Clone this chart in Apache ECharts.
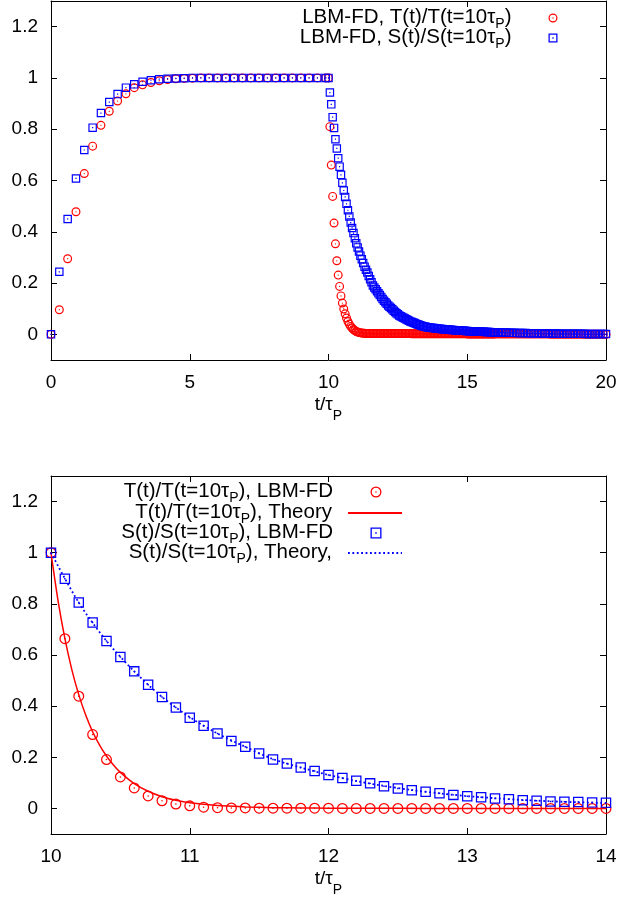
<!DOCTYPE html>
<html><head><meta charset="utf-8">
<script src="https://cdn.jsdelivr.net/npm/echarts@6/dist/echarts.min.js"></script>
<style>html,body{margin:0;padding:0;background:#fff}#c{width:621px;height:898px}</style>
</head><body><div id="c"></div>
<script>
// ---------------- data ----------------
// Top panel, heating phase: sampled every 0.3 tau_P from t = 0 to 9.9
const riseStart = 0, riseStep = 0.3;
const riseT = [0, 0.096, 0.295, 0.478, 0.627, 0.734, 0.815, 0.870, 0.910, 0.938, 0.962, 0.973, 0.982, 0.989, 0.994, 0.997, 0.998, 0.999,
  1, 1, 1, 1, 1, 1, 1, 1, 1, 1, 1, 1, 1, 1, 1, 1];
const riseS = [0, 0.244, 0.450, 0.608, 0.719, 0.806, 0.863, 0.906, 0.937, 0.962, 0.975, 0.985, 0.991, 0.995, 0.997, 0.998, 0.999,
  1, 1, 1, 1, 1, 1, 1, 1, 1, 1, 1, 1, 1, 1, 1, 1, 1];
// Top panel, decay phase: every 0.05 from t = 10.00 to 16.00
const decayStart = 10, decayStep = 0.05;
const decayT = [1,
  0.810, 0.660, 0.538, 0.434, 0.353, 0.287, 0.231, 0.187, 0.150, 0.122,
  0.099, 0.080, 0.064, 0.050, 0.040, 0.031, 0.025, 0.019, 0.015, 0.011,
  0.009, 0.007, 0.006, 0.005, 0.004, 0.004, 0.003, 0.003, 0.003, 0.003,
  0.003, 0.003, 0.003, 0.003, 0.003, 0.003, 0.003, 0.003, 0.003, 0.003,
  0.003, 0.003, 0.003, 0.003, 0.003, 0.003, 0.003, 0.003, 0.003, 0.003,
  0.003, 0.003, 0.003, 0.003, 0.003, 0.003, 0.003, 0.003, 0.003, 0.002,
  0.002, 0.002, 0.002, 0.002, 0.002, 0.002, 0.002, 0.002, 0.002, 0.002,
  0.002, 0.002, 0.002, 0.002, 0.002, 0.002, 0.002, 0.002, 0.002, 0.002,
  0.002, 0.002, 0.002, 0.002, 0.002, 0.002, 0.002, 0.002, 0.002, 0.002,
  0.002, 0.002, 0.002, 0.002, 0.002, 0.002, 0.002, 0.002, 0.002, 0.001,
  0.001, 0.001, 0.001, 0.001, 0.001, 0.001, 0.001, 0.001, 0.001, 0.001,
  0.001, 0.001, 0.001, 0.001, 0.001, 0.001, 0.001, 0.001, 0.001, 0.001];
const decayS = [1,
  0.943, 0.897, 0.847, 0.805, 0.761, 0.725, 0.687, 0.654, 0.622, 0.591,
  0.561, 0.536, 0.509, 0.484, 0.460, 0.436, 0.415, 0.395, 0.375, 0.355,
  0.339, 0.323, 0.307, 0.293, 0.278, 0.264, 0.252, 0.241, 0.228, 0.215,
  0.203, 0.191, 0.183, 0.176, 0.168, 0.160, 0.153, 0.146, 0.138, 0.131,
  0.125, 0.119, 0.113, 0.108, 0.103, 0.098, 0.092, 0.087, 0.082, 0.078,
  0.074, 0.071, 0.068, 0.065, 0.062, 0.059, 0.056, 0.053, 0.050, 0.048,
  0.046, 0.044, 0.041, 0.039, 0.037, 0.036, 0.034, 0.032, 0.031, 0.030,
  0.028, 0.027, 0.026, 0.026, 0.025, 0.025, 0.024, 0.023, 0.022, 0.022,
  0.021, 0.021, 0.020, 0.020, 0.019, 0.019, 0.018, 0.018, 0.017, 0.017,
  0.016, 0.016, 0.015, 0.015, 0.014, 0.014, 0.014, 0.014, 0.013, 0.013,
  0.012, 0.012, 0.012, 0.012, 0.011, 0.011, 0.011, 0.011, 0.010, 0.010,
  0.010, 0.010, 0.009, 0.009, 0.009, 0.009, 0.008, 0.008, 0.008, 0.008];
// Top panel, tail: every 0.1 from t = 16.1 to 20.0
const tailStart = 16.1, tailStep = 0.1;
const tailT = [
  0.001, 0.001, 0.001, 0.001, 0.001, 0.001, 0.001, 0.001, 0.001,
  0.001, 0.001, 0.001, 0.001, 0.001, 0.001, 0.001, 0.001, 0.001, 0.001,
  0, 0, 0, 0, 0, 0, 0, 0, 0, 0,
  0, 0, 0, 0, 0, 0, 0, 0, 0, 0, 0];
const tailS = [
  0.008, 0.007, 0.007, 0.007, 0.006, 0.006, 0.006, 0.005, 0.005,
  0.005, 0.005, 0.004, 0.004, 0.004, 0.004, 0.004, 0.003, 0.003, 0.003,
  0.003, 0.003, 0.003, 0.002, 0.002, 0.002, 0.002, 0.002, 0.002, 0.002,
  0.002, 0.002, 0.002, 0.001, 0.001, 0.001, 0.001, 0.001, 0.001, 0.001, 0.001];
// Bottom panel, LBM-FD points: every 0.1 from t = 10 to 14
const zoomStart = 10, zoomStep = 0.1;
const zoomT = [1, 0.664, 0.439, 0.289, 0.191, 0.123, 0.080, 0.049, 0.030, 0.017,
  0.010, 0.005, 0.003, 0.002, 0.002, 0.001, 0.001, 0.001, 0.001, 0.001,
  0.001, 0, 0, 0, 0, 0, 0, 0, 0, 0,
  0, 0, 0, 0, 0, 0, 0, 0, 0, 0, 0];
const zoomS = [1, 0.898, 0.805, 0.727, 0.655, 0.592, 0.536, 0.484, 0.436, 0.395,
  0.355, 0.323, 0.293, 0.264, 0.241, 0.215, 0.191, 0.176, 0.160, 0.146,
  0.131, 0.119, 0.108, 0.098, 0.087, 0.078, 0.071, 0.065, 0.059, 0.053,
  0.048, 0.044, 0.039, 0.036, 0.032, 0.030, 0.027, 0.026, 0.025, 0.023, 0.022];
// Bottom panel, theory curves
const theoryTTimes = [10, 10.05, 10.1, 10.15, 10.2, 10.25, 10.3, 10.35, 10.4, 10.45, 10.5, 10.6, 10.7, 10.8, 10.9, 11.0, 11.2, 11.4, 11.6, 11.8, 12.0, 12.5, 13, 13.5, 14];
const theoryTVals  = [1, 0.815, 0.665, 0.543, 0.445, 0.365, 0.300, 0.248, 0.205, 0.170, 0.141, 0.097, 0.067, 0.046, 0.032, 0.022, 0.011, 0.006, 0.003, 0.002, 0.001, 0.0005, 0, 0, 0];
const theorySStart = 10, theorySStep = 0.2;
const theorySVals = [1, 0.805, 0.655, 0.536, 0.436, 0.357, 0.293, 0.241, 0.193, 0.160, 0.131,
  0.107, 0.088, 0.072, 0.059, 0.048, 0.040, 0.033, 0.028, 0.024, 0.021];
// axes
const topX = {min: 0, max: 20, interval: 5};
const botX = {min: 10, max: 14, interval: 1};
const yRange = {min: -0.1, max: 1.3};
const yTicks = [0, 0.2, 0.4, 0.6, 0.8, 1, 1.2];
// legend / axis texts (rich-text: n = normal, s = subscript)
const labels = {
  T_top: '{n|LBM-FD, T(t)/T(t=10τ}{s|P}{n|)}',
  S_top: '{n|LBM-FD, S(t)/S(t=10τ}{s|P}{n|)}',
  T_lbm: '{n|T(t)/T(t=10τ}{s|P}{n|), LBM-FD}',
  T_th:  '{n|T(t)/T(t=10τ}{s|P}{n|), Theory}',
  S_lbm: '{n|S(t)/S(t=10τ}{s|P}{n|), LBM-FD}',
  S_th:  '{n|S(t)/S(t=10τ}{s|P}{n|), Theory,}'
};
const xTitle = '{n|t/τ}{s|P}';

// ---------------- helpers ----------------
const FONT = 'Liberation Sans';
const RED = '#ff0000', BLUE = '#0000ff';
function grid(start, step, vals) { return vals.map((v, i) => [Math.round((start + i * step) * 1000) / 1000, v]); }
function ringCircle(inner) {
  return `path://M0,-10A10,10,0,1,1,0,10A10,10,0,1,1,0,-10ZM0,-${inner}A${inner},${inner},0,1,0,0,${inner}A${inner},${inner},0,1,0,0,-${inner}ZM0,-1.4A1.4,1.4,0,1,1,0,1.4A1.4,1.4,0,1,1,0,-1.4Z`;
}
function ringSquare(inner) {
  return `path://M-10,-10L10,-10L10,10L-10,10ZM-${inner},-${inner}L-${inner},${inner}L${inner},${inner}L${inner},-${inner}ZM-1.4,-1.4L1.4,-1.4L1.4,1.4L-1.4,1.4Z`;
}

const topTData = grid(riseStart, riseStep, riseT).concat(grid(decayStart, decayStep, decayT), grid(tailStart, tailStep, tailT));
const topSData = grid(riseStart, riseStep, riseS).concat(grid(decayStart, decayStep, decayS), grid(tailStart, tailStep, tailS));
const botTData = grid(zoomStart, zoomStep, zoomT);
const botSData = grid(zoomStart, zoomStep, zoomS);
const thTData = theoryTTimes.map((t, i) => [t, theoryTVals[i]]);
const thSData = grid(theorySStart, theorySStep, theorySVals);

const axisLine = {show: true, onZero: false, lineStyle: {color: '#000', width: 1}};
const tick = {show: true, inside: true, length: 6, lineStyle: {color: '#000', width: 1}};
const labelStyle = {color: '#000', fontFamily: FONT, fontSize: 19};
const nameRich = {
  n: {fontFamily: FONT, fontSize: 19, lineHeight: 36, verticalAlign: 'top', color: '#000'},
  s: {fontFamily: FONT, fontSize: 14, lineHeight: 14, padding: [14, 0, 0, 0], verticalAlign: 'top', color: '#000'}
};
const legendRich = {
  n: {fontFamily: FONT, fontSize: 20.5, lineHeight: 22, verticalAlign: 'top', color: '#000'},
  s: {fontFamily: FONT, fontSize: 14, lineHeight: 14, padding: [10, 0, 0, 0], verticalAlign: 'top', color: '#000'}
};

function xAxes(gi, r) {
  return [
    {type: 'value', gridIndex: gi, position: 'bottom', min: r.min, max: r.max, interval: r.interval,
     axisLine, axisTick: tick, splitLine: {show: false},
     axisLabel: Object.assign({margin: 13}, labelStyle),
     name: xTitle, nameLocation: 'middle', nameGap: 35, nameTextStyle: {rich: nameRich}},
    {type: 'value', gridIndex: gi, position: 'top', min: r.min, max: r.max, interval: r.interval,
     axisLine, axisTick: tick, splitLine: {show: false}, axisLabel: {show: false}}
  ];
}
function yAxes(gi) {
  return [
    {type: 'value', gridIndex: gi, position: 'left', min: yRange.min, max: yRange.max,
     axisLine, axisTick: Object.assign({customValues: yTicks}, tick), splitLine: {show: false},
     axisLabel: Object.assign({margin: 13, customValues: yTicks}, labelStyle)},
    {type: 'value', gridIndex: gi, position: 'right', min: yRange.min, max: yRange.max,
     axisLine, axisTick: Object.assign({customValues: yTicks}, tick), splitLine: {show: false},
     axisLabel: {show: false, customValues: yTicks}}
  ];
}
// one legend per row so that text is right-aligned and icons share one column
function legendItem(name, top, right, iw, ih, spacer, hideSymbol) {
  const l = {
    data: [name], orient: 'vertical', align: 'right', top, right,
    itemWidth: iw, itemHeight: ih, padding: 0, itemGap: 0, selectedMode: false,
    formatter: n => labels[n] + '{sp| }',
    textStyle: {color: '#000', fontFamily: FONT, fontSize: 20.5,
      rich: Object.assign({sp: {width: spacer, fontSize: 20}}, legendRich)}
  };
  if (hideSymbol) l.itemStyle = {opacity: 0};
  return l;
}
function scatter(name, xi, yi, data, sym, size, color) {
  return {name, type: 'scatter', xAxisIndex: xi, yAxisIndex: yi, data, symbol: sym, symbolSize: size,
    clip: false, itemStyle: {color, borderWidth: 0, opacity: 1}, emphasis: {disabled: true}};
}

const chart = echarts.init(document.getElementById('c'), null, {renderer: 'canvas'});
chart.setOption({
  animation: false,
  backgroundColor: '#fff',
  grid: [
    {left: 51, right: 15, top: 1, height: 359},
    {left: 51, right: 15, top: 476, height: 358}
  ],
  xAxis: xAxes(0, topX).concat(xAxes(1, botX)),
  yAxis: yAxes(0).concat(yAxes(1)),
  legend: [
    legendItem('T_top', 7, 63.5, 9, 9, 32),
    legendItem('S_top', 27, 63.5, 9, 9, 32),
    legendItem('T_lbm', 481, 239.5, 11, 11, 32.5),
    legendItem('T_th', 502, 218, 54, 11, 11, true),
    legendItem('S_lbm', 522, 239.5, 11, 11, 32.5),
    legendItem('S_th', 542, 218, 54, 11, 11, true)
  ],
  series: [
    scatter('T_top', 0, 0, topTData, ringCircle(7.3), 9, RED),
    scatter('S_top', 0, 0, topSData, ringSquare(7.2), 8.5, BLUE),
    scatter('T_lbm', 2, 2, botTData, ringCircle(7.7), 11, RED),
    {name: 'T_th', type: 'line', xAxisIndex: 2, yAxisIndex: 2, data: thTData, symbol: 'none',
     smooth: 0.3, lineStyle: {color: RED, width: 1.5}, itemStyle: {color: RED}, emphasis: {disabled: true}},
    scatter('S_lbm', 2, 2, botSData, ringSquare(7.6), 10.5, BLUE),
    {name: 'S_th', type: 'line', xAxisIndex: 2, yAxisIndex: 2, data: thSData, symbol: 'none',
     smooth: 0.3, lineStyle: {color: BLUE, width: 1.8, type: [1.8, 2.6]}, itemStyle: {color: BLUE}, emphasis: {disabled: true}}
  ]
});
</script></body></html>
